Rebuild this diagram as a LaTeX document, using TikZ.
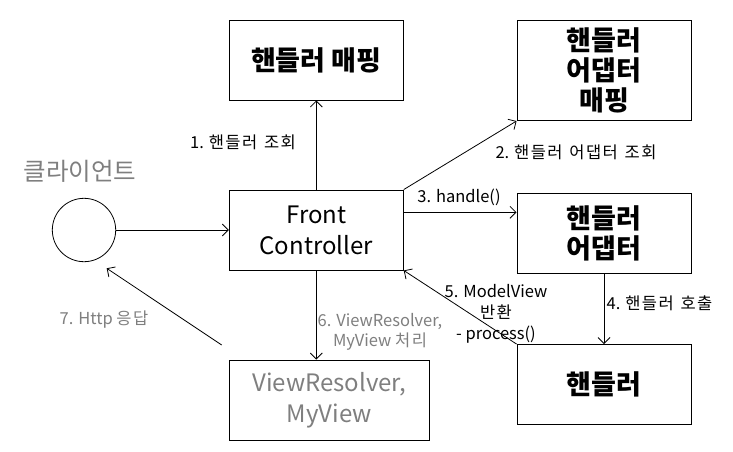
\documentclass[tikz,border=0pt]{standalone}
\usepackage{fontspec}
\setmainfont{Noto Sans CJK KR}
\newfontfamily\krsp[LetterSpace=9,WordSpace=1.3]{Noto Sans CJK KR}
\usetikzlibrary{arrows.meta}
\definecolor{txtgray}{HTML}{7F7F7F}
\begin{document}
\begin{tikzpicture}[x=1pt,y=-1pt,
  box/.style={draw=black, line width=0.9pt, rectangle, minimum width=174pt, minimum height=80pt, inner sep=0pt, align=center},
  bigbold/.style={font=\fontsize{27}{30}\selectfont\bfseries},
  bigreg/.style={font=\fontsize{24}{31}\selectfont},
  lbl/.style={inner sep=0pt, align=center, font=\fontsize{16.5}{20}\selectfont},
  conn/.style={line width=0.8pt, -{Straight Barb[length=6pt,width=12pt,line width=0.8pt]}},
]
\useasboundingbox (0,0) rectangle (733,451);
\fill[white] (0,0) rectangle (733,451);

% boxes
\node[box, bigbold] (hm) at (316.3,60) {핸들러 매핑};
\node[box, bigbold, minimum height=100.5pt] (ham) at (604,70.3) {핸들러\\어댑터\\매핑};
\node[box, bigreg] (fc) at (316.3,230) {Front\\Controller};
\node[box, bigbold] (ha) at (604,233) {핸들러\\어댑터};
\node[box, bigbold] (h) at (604,384.5) {핸들러};
\node[box, bigreg, text=txtgray, minimum width=200pt] (vr) at (329.3,400) {ViewResolver,\\MyView};
\node[draw=black, line width=0.8pt, circle, minimum size=63.4pt, inner sep=0pt] (cl) at (84,230) {};
\node[inner sep=0pt, text=txtgray, font=\fontsize{24.5}{28}\selectfont] (clt) at (80,171) {클라이언트};

% connectors
\draw[conn] (cl.east) -- (fc.west);
\draw[conn] (fc.north) -- (hm.south);
\draw[conn] (fc.north east) -- (ham.south west);
\coordinate (p3) at (403,212.3);
\draw[conn] (p3 -| fc.east) -- (p3 -| ha.west);
\draw[conn] (ha.south) -- (h.north);
\draw[conn] (h.north west) -- (fc.south east);
\draw[conn] (fc.south) -- (fc.south |- vr.north);
\coordinate (r7s) at (221.7,345);
\coordinate (r7e) at (106.7,268.3);
\draw[conn] (r7s) -- (r7e);

% labels
\node[lbl] (l1) at (243,142) {1. {\krsp 핸들러 조회}};
\node[lbl] (l2) at (576,152) {2. {\krsp 핸들러 어댑터 조회}};
\node[lbl] (l3) at (459,197) {3. handle()};
\node[lbl] (l4) at (659.5,303) {4. {\krsp 핸들러 호출}};
\node[lbl, font=\fontsize{16.5}{21}\selectfont] (l5) at (496,313.5) {5. ModelView\\{\krsp 반환}\\- process()};
\node[lbl, text=txtgray] (l6) at (380,332) {6. ViewResolver,\\MyView {\krsp 처리}};
\node[lbl, text=txtgray] (l7) at (104,320) {7. Http {\krsp 응답}};
\end{tikzpicture}
\end{document}
